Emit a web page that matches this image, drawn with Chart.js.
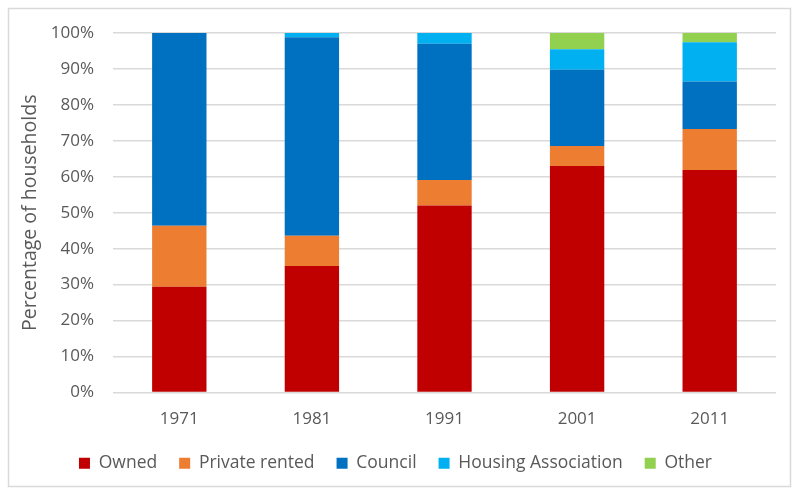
<!DOCTYPE html>
<html>
<head>
<meta charset="utf-8">
<script src="https://cdn.jsdelivr.net/npm/chart.js@4.4.0/dist/chart.umd.min.js"></script>
<style>
  html, body { margin: 0; padding: 0; background: #fff; }
  #wrap { position: relative; width: 800px; height: 496px; }
</style>
</head>
<body>
<div id="wrap"><canvas id="tenureChart" width="800" height="496"></canvas></div>
<script>
// census years and tenure shares (% of households)
const years = ['1971', '1981', '1991', '2001', '2011'];
const owned = [29.4, 35.2, 52.0, 63.0, 61.9];
const privateRented = [17.0, 8.4, 7.1, 5.6, 11.4];
const council = [53.6, 55.2, 37.9, 21.2, 13.2];
const housingAssoc = [0, 1.2, 3.0, 5.7, 10.9];
const other = [0, 0, 0, 4.5, 2.6];
const yTicks = [0, 10, 20, 30, 40, 50, 60, 70, 80, 90, 100];

const textColor = '#595959';
const gridColor = '#d9d9d9';
const fontFamily = "'Open Sans', 'Liberation Sans', sans-serif";

// light grey frame round the whole chart
const framePlugin = {
    id: 'frame',
    beforeDraw(chart) {
        const c = chart.ctx;
        c.save();
        c.fillStyle = '#fff';
        c.fillRect(0, 0, chart.width, chart.height);
        c.strokeStyle = gridColor;
        c.lineWidth = 1.5;
        c.strokeRect(8.5, 8.5, 782, 478);
        c.restore();
    }
};

function series(label, data, color) {
    return {
        label: label,
        data: data,
        backgroundColor: color,
        borderWidth: 0,
        barPercentage: 0.41,
        categoryPercentage: 1.0
    };
}

new Chart(document.getElementById('tenureChart'), {
    type: 'bar',
    data: {
        labels: years,
        datasets: [
            series('Owned', owned, '#c00000'),
            series('Private rented', privateRented, '#ed7d31'),
            series('Council', council, '#0070c0'),
            series('Housing Association', housingAssoc, '#00b0f0'),
            series('Other', other, '#92d050')
        ]
    },
    options: {
        responsive: false,
        animation: false,
        layout: { padding: { left: 15, right: 24, top: 33, bottom: 14 } },
        plugins: {
            tooltip: { enabled: false },
            legend: {
                position: 'bottom',
                labels: {
                    color: textColor,
                    font: { family: fontFamily, size: 17.5 },
                    boxWidth: 11,
                    boxHeight: 11,
                    padding: 22
                }
            }
        },
        scales: {
            x: {
                stacked: true,
                grid: { display: false },
                border: { display: false },
                afterFit(scale) {
                    // a little extra room between year labels and legend
                    scale.height = 40;
                },
                ticks: {
                    color: textColor,
                    font: { family: fontFamily, size: 17 },
                    padding: 8
                }
            },
            y: {
                stacked: true,
                min: 0,
                max: 100,
                afterBuildTicks(scale) {
                    scale.ticks = yTicks.map(v => ({ value: v }));
                },
                afterFit(scale) {
                    scale.width = 98;
                },
                grid: { color: gridColor, lineWidth: 1.5, drawTicks: false },
                border: { display: false },
                ticks: {
                    color: textColor,
                    font: { family: fontFamily, size: 17 },
                    padding: 19,
                    callback: v => v + '%'
                },
                title: {
                    display: true,
                    text: 'Percentage of households',
                    color: textColor,
                    font: { family: fontFamily, size: 19.5 },
                    padding: { top: 4, bottom: 0 }
                }
            }
        }
    },
    plugins: [framePlugin]
});
</script>
</body>
</html>
